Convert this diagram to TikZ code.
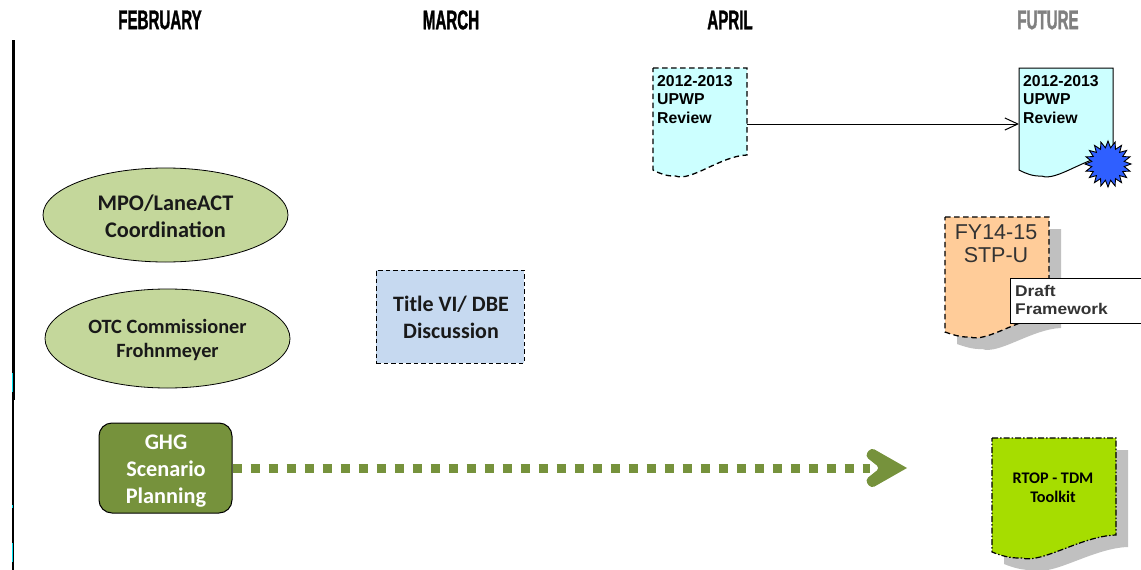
\documentclass[tikz,border=0pt]{standalone}
\usepackage{fontspec}
\setmainfont{Carlito}
\newfontfamily\arialf{Liberation Sans}
\newfontfamily\headf[FakeStretch=0.56,FakeBold=1.2]{Liberation Sans}
\newfontfamily\draftf[FakeStretch=1.12]{Liberation Sans}
\usetikzlibrary{arrows.meta,shapes.geometric,shapes.misc}
\definecolor{ovalgreen}{HTML}{C4D79B}
\definecolor{boxblue}{HTML}{C6D9F0}
\definecolor{olive}{HTML}{76923C}
\definecolor{docCyan}{HTML}{CCFFFF}
\definecolor{docPeach}{HTML}{FFCC99}
\definecolor{docLime}{HTML}{A6DD00}
\definecolor{shadowgrey}{HTML}{C0C0C0}
\definecolor{starblue}{HTML}{2F5FFF}
\definecolor{futuregrey}{HTML}{808080}
\definecolor{tickcyan}{HTML}{00E0F0}
\tikzset{
  x=1pt,y=-1pt,
  head/.style={font=\headf\bfseries\fontsize{27}{27}\selectfont,inner sep=0pt,anchor=center},
  oval/.style={ellipse,draw=black,line width=0.8pt,fill=ovalgreen,inner sep=0pt},
  label/.style={inner sep=0pt,align=center,text=black!90},
  anchorbox/.style={inner sep=0pt,outer sep=0pt,minimum width=#1},
  doctext/.style={font=\arialf\bfseries\fontsize{15.8}{18.6}\selectfont,align=left,anchor=north west,inner sep=0pt,text=black},
  dashedge/.style={draw=black,line width=1.3pt,dash pattern=on 5.5pt off 3.5pt},
}
% \wavedoc{x0}{x1}{ytop}{yleft}{ydip}{yright}{style}
\newcommand{\wavedoc}[7]{%
  \path[#7] (#1,#3) -- (#2,#3) -- (#2,#6)
    .. controls ({#2-0.28*(#2-#1)},{#6+1}) and ({#1+0.40*(#2-#1)},{#5+6}) .. ({#1+0.24*(#2-#1)},#5)
    .. controls ({#1+0.15*(#2-#1)},{#5+0.5}) and ({#1+0.07*(#2-#1)},{#5-2.5}) .. (#1,#4) -- cycle;}
\begin{document}
\begin{tikzpicture}
\useasboundingbox (0,0) rectangle (1141,570);

% left rule
\coordinate (ruleA) at (13.5,40);
\coordinate (ruleB) at (13.5,400);
\coordinate (ruleC) at (12.8,400);
\coordinate (ruleD) at (12.8,570);
\draw[black,line width=2.2pt] (ruleA) -- (ruleB);
\draw[black,line width=1.8pt] (ruleC) -- (ruleD);
\fill[tickcyan] (11.8,373) rectangle (13,392);
\fill[tickcyan] (11.8,505) rectangle (13,508);
\fill[tickcyan] (11.8,543) rectangle (13,562);

% headings
\node[head] (feb) at (160,20) {FEBRUARY};
\node[head] (mar) at (451,20) {MARCH};
\node[head] (apr) at (730,20) {APRIL};
\node[head,text=futuregrey] (fut) at (1048,20) {FUTURE};

% ovals
\node[oval,minimum width=245pt,minimum height=94pt] (mpo) at (165.5,215) {};
\node[label,font=\bfseries\fontsize{22.3}{27}\selectfont] (mpotext) at (165.5,216.5) {MPO/LaneACT\\Coordination};
\node[oval,minimum width=245pt,minimum height=99pt] (otc) at (167.5,338.5) {};
\node[label,font=\bfseries\fontsize{20.3}{24}\selectfont] (otctext) at (167.5,339.5) {OTC Commissioner\\Frohnmeyer};

% Title VI
\node[draw=black,line width=1pt,dash pattern=on 4.5pt off 3pt,fill=boxblue,minimum width=148pt,minimum height=93pt,inner sep=0pt] (title) at (450,316.5) {};
\node[label,font=\bfseries\fontsize{22}{27.5}\selectfont] (titletext) at (451,317.5) {Title VI/ DBE\\Discussion};

% GHG
\node[draw=black,line width=1pt,rounded corners=13pt,fill=olive,minimum width=133pt,minimum height=90pt,inner sep=0pt] (ghg) at (165.5,468) {};
\node[label,text=white,font=\bfseries\fontsize{22.3}{27}\selectfont] (ghgtext) at (166,471) {GHG\\Scenario\\Planning};
\coordinate (ghgend) at (870,468);
\draw[olive,line width=9pt,dash pattern=on 9pt off 9pt] (ghg.east) -- (ghgend);
\coordinate (tip) at (907,468);
\fill[olive,line join=round] (tip)
  [rounded corners=4pt] -- (871,447.5) -- (865,456) -- (880,468) -- (865,480) -- (871,488.5) [sharp corners] -- cycle;

% April doc
\wavedoc{653}{747}{68}{170}{176}{155}{fill=docCyan,dashedge}
\node[anchorbox=94pt,minimum height=112pt] (aprdoc) at (700,124) {};
\node[doctext] (aprtext) at (657,75) {2012-2013\\UPWP\\Review};

% Future doc
\wavedoc{1019}{1113}{68}{170}{176}{155}{fill=docCyan,draw=black,line width=1pt}
\node[anchorbox=94pt,minimum height=112pt] (futdoc) at (1066,124) {};
\node[doctext] (futtext) at (1023,75) {2012-2013\\UPWP\\Review};
\draw[black,line width=1pt,-{Straight Barb[length=13pt,width=14pt,angle'=50]}] (aprdoc.east) -- (futdoc.west);

\node[star,star points=20,star point ratio=1.4,draw=black,line width=0.9pt,fill=starblue,minimum size=46pt,inner sep=0pt] (burst) at (1108,164) {};

% STP-U doc
\begin{scope}[shift={(12,12)}]
\wavedoc{945}{1049}{217}{332}{337}{316}{fill=shadowgrey}
\end{scope}
\wavedoc{945}{1049}{217}{332}{337}{316}{fill=docPeach,dashedge}
\node[font=\arialf\fontsize{21.5}{23}\selectfont,align=center,inner sep=0pt,text=black!80] (stp) at (996,243.5) {FY14-15\\STP-U};
\node[draw=black,line width=1pt,fill=white,anchor=north west,minimum width=135pt,minimum height=45pt,inner sep=0pt] (draftbox) at (1010,278) {};
\node[font=\draftf\bfseries\fontsize{15.5}{18}\selectfont,align=left,anchor=north west,inner sep=0pt,text=black!80] (draft) at (1015,285) {Draft\\Framework};

% RTOP doc
\begin{scope}[shift={(12,12)}]
\wavedoc{992}{1116}{438}{552}{558}{535}{fill=shadowgrey}
\end{scope}
\wavedoc{992}{1116}{438}{552}{558}{535}{fill=docLime,draw=black,line width=1.2pt,dash pattern=on 6pt off 2pt on 1.5pt off 2pt}
\node[font=\bfseries\fontsize{16.2}{19}\selectfont,align=center,inner sep=0pt,text=black] (rtop) at (1053,487.5) {RTOP - TDM\\Toolkit};
\end{tikzpicture}
\end{document}
